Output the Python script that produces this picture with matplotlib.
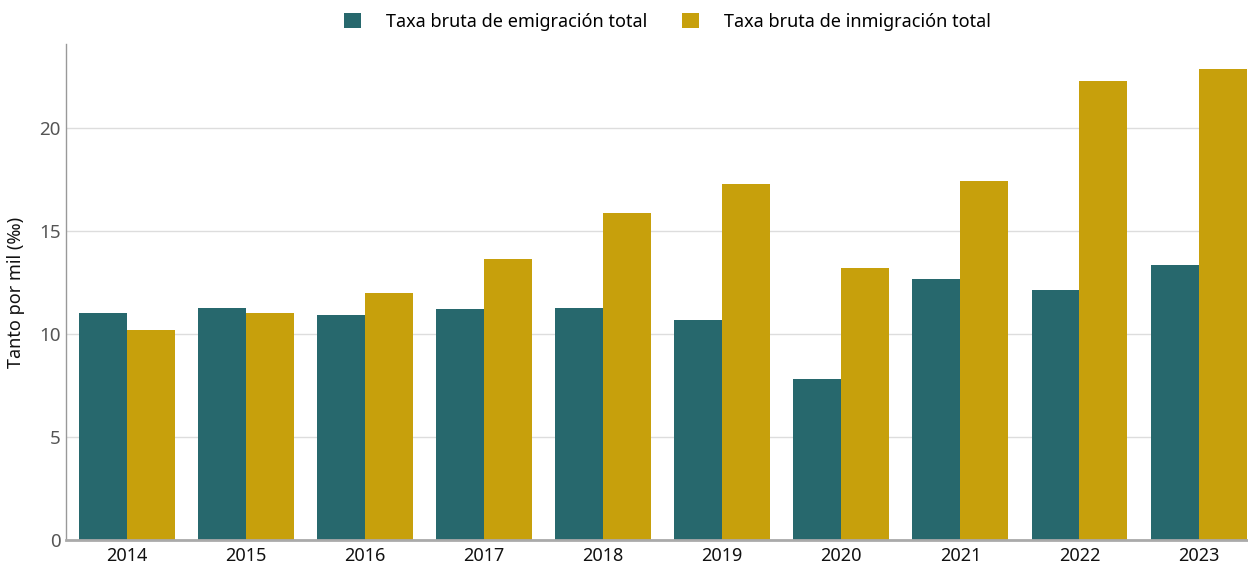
import matplotlib
matplotlib.use("Agg")
import matplotlib.pyplot as plt
import numpy as np

years = ["2014", "2015", "2016", "2017", "2018", "2019", "2020", "2021", "2022", "2023"]
emigracion = [11.02, 11.26, 10.92, 11.21, 11.26, 10.68, 7.82, 12.67, 12.14, 13.35]
inmigracion = [10.19, 11.02, 11.99, 13.64, 15.87, 17.28, 13.20, 17.43, 22.28, 22.86]

labels = ["Taxa bruta de emigración total", "Taxa bruta de inmigración total"]
colors = ["#27686d", "#c7a00c"]

plt.rcParams['font.family'] = ['Noto Sans', 'DejaVu Sans']

fig = plt.figure(figsize=(12.48, 5.65), dpi=100)
ax = fig.add_axes([0.0529, 0.0442, 0.9466, 0.8778])

x = np.arange(len(years))
w = 0.403
ax.bar(x - w / 2, emigracion, width=w, color=colors[0], label=labels[0], zorder=3)
ax.bar(x + w / 2, inmigracion, width=w, color=colors[1], label=labels[1], zorder=3)

ax.set_xlim(-0.512, 9.41)
ax.set_ylim(0, 24.08)
ax.set_yticks([0, 5, 10, 15, 20])
ax.set_xticks(x)
ax.set_xticklabels(years)
ax.tick_params(axis='x', length=0, labelsize=13, colors='#111111', pad=5)
ax.tick_params(axis='y', length=0, labelsize=13.5, colors='#555555', pad=4)
ax.yaxis.grid(True, color='#dddddd', linewidth=1, zorder=0)
ax.set_axisbelow(True)

for side in ['top', 'right']:
    ax.spines[side].set_visible(False)
ax.spines['left'].set_color('#999999')
ax.spines['left'].set_linewidth(1)
ax.spines['bottom'].set_color('#aaaaaa')
ax.spines['bottom'].set_linewidth(2)
ax.spines['bottom'].set_zorder(4)

ax.set_ylabel("Tanto por mil (‰)", fontsize=13, color='#111111', labelpad=10)

fig.legend(loc='upper center', bbox_to_anchor=(0.535, 1.0), ncol=2, frameon=False,
           fontsize=13, handlelength=0.95, handleheight=0.95, handletextpad=1.4,
           columnspacing=1.9, borderaxespad=0.3)

fig.savefig("out.png", dpi=100)
